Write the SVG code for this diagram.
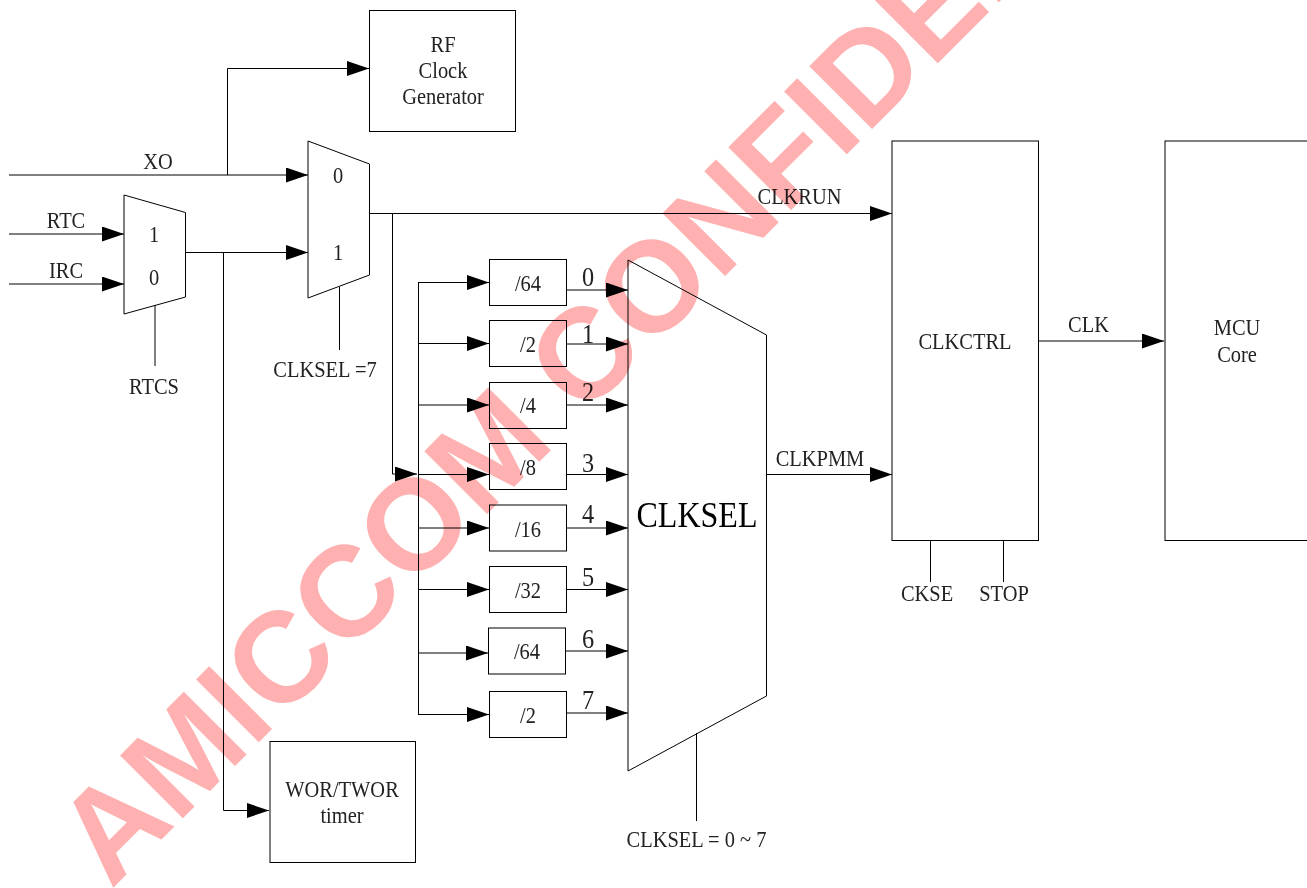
<svg xmlns="http://www.w3.org/2000/svg" width="1307" height="888" viewBox="0 0 1307 888">
<defs>
<marker id="a" markerUnits="userSpaceOnUse" markerWidth="22" markerHeight="16" refX="22" refY="7.5" orient="auto"><path d="M0 0L22 7.500L0 15Z" fill="#000"/></marker>
</defs>
<style>
.s{fill:#fff;stroke:#000;stroke-width:1}
.l{fill:none;stroke:#000;stroke-width:1}
.ar{marker-end:url(#a)}
text{font-family:"Liberation Serif","Times New Roman",serif;font-size:23.5px;fill:#222;text-anchor:middle}
.n{font-size:27px}
.big{font-size:36px;fill:#000}
.wm{font-family:"Liberation Sans",Arial,sans-serif;font-weight:700;font-size:129px;fill:#ffb0b0;text-anchor:start;mix-blend-mode:multiply}
</style>
<rect width="1307" height="888" fill="#fff"/>
<g id="rf"><rect class="s" x="369.500" y="10.500" width="146" height="121"/><text transform="translate(443 52) scale(.87 1)">RF</text><text transform="translate(443 78) scale(.87 1)">Clock</text><text transform="translate(443 104) scale(.87 1)">Generator</text></g>
<g id="mux-rtc"><path class="s" d="M124 195L185.500 212.500V297L124 314Z"/><text transform="translate(154 242) scale(.87 1)">1</text><text transform="translate(154 285) scale(.87 1)">0</text></g>
<g id="mux-run"><path class="s" d="M308 141L369.500 164V275L308 298Z"/><text transform="translate(338 183) scale(.87 1)">0</text><text transform="translate(338 260) scale(.87 1)">1</text></g>
<g id="wor"><rect class="s" x="270" y="741.500" width="145.500" height="121"/><text transform="translate(342 797) scale(.87 1)">WOR/TWOR</text><text transform="translate(342 823) scale(.87 1)">timer</text></g>
<g id="div0"><rect class="s" x="489.500" y="259.500" width="77" height="46"/><text transform="translate(528 291) scale(.87 1)">/64</text></g>
<g id="div1"><rect class="s" x="489.500" y="320.500" width="77" height="46"/><text transform="translate(528 352) scale(.87 1)">/2</text></g>
<g id="div2"><rect class="s" x="489.500" y="382.500" width="77" height="46"/><text transform="translate(528 413) scale(.87 1)">/4</text></g>
<g id="div3"><rect class="s" x="489.500" y="443.500" width="77" height="46"/><text transform="translate(528 475) scale(.87 1)">/8</text></g>
<g id="div4"><rect class="s" x="489.500" y="505" width="77" height="46"/><text transform="translate(528 537) scale(.87 1)">/16</text></g>
<g id="div5"><rect class="s" x="489.500" y="566.500" width="77" height="46"/><text transform="translate(528 598) scale(.87 1)">/32</text></g>
<g id="div6"><rect class="s" x="488.500" y="628" width="77" height="46"/><text transform="translate(527 659) scale(.87 1)">/64</text></g>
<g id="div7"><rect class="s" x="489.500" y="691.500" width="77" height="46"/><text transform="translate(528 723) scale(.87 1)">/2</text></g>
<g id="clksel"><path class="s" d="M628 260L766.500 335V696L628 771Z"/><text class="big" transform="translate(697 527) scale(.89 1)">CLKSEL</text></g>
<g id="clkctrl"><rect class="s" x="892" y="141" width="146.500" height="399.500"/><text transform="translate(965 349) scale(.87 1)">CLKCTRL</text></g>
<g id="mcu"><rect class="s" x="1165" y="141" width="146" height="399.500"/><text transform="translate(1237 335) scale(.87 1)">MCU</text><text transform="translate(1237 362) scale(.87 1)">Core</text></g>
<g id="connectors">
<path class="l ar" d="M9 175H308"/>
<path class="l ar" d="M227.500 175V68.500H369"/>
<path class="l ar" d="M9 234H124"/>
<path class="l ar" d="M9 284H124"/>
<path class="l ar" d="M186 252.500H308"/>
<path class="l ar" d="M223.500 253V810.500H269"/>
<path class="l ar" d="M370 213.500H892"/>
<path class="l ar" d="M392.500 213V474H417"/>
<path class="l" d="M418.500 282V715"/>
<path class="l ar" d="M418.500 282.500H489"/>
<path class="l ar" d="M418.500 343.500H489"/>
<path class="l ar" d="M418.500 405H489"/>
<path class="l ar" d="M418.500 474.500H489"/>
<path class="l ar" d="M418.500 528H489"/>
<path class="l ar" d="M418.500 589.500H489"/>
<path class="l ar" d="M418.500 653H488"/>
<path class="l ar" d="M418.500 714.500H489"/>
<path class="l ar" d="M567 290H628"/>
<path class="l ar" d="M567 344H628"/>
<path class="l ar" d="M567 405H628"/>
<path class="l ar" d="M567 474.500H628"/>
<path class="l ar" d="M567 528H628"/>
<path class="l ar" d="M567 589.500H628"/>
<path class="l ar" d="M566 651H628"/>
<path class="l ar" d="M567 713H628"/>
<path class="l ar" d="M767 474.500H892"/>
<path class="l ar" d="M1039 341H1164"/>
<path class="l" d="M155 305V366"/>
<path class="l" d="M339.500 287V350"/>
<path class="l" d="M696.500 733V821"/>
<path class="l" d="M930.500 541V582"/>
<path class="l" d="M1003.500 541V582"/>
</g>
<g id="labels">
<text transform="translate(158 169) scale(.87 1)">XO</text><text transform="translate(66 228) scale(.87 1)">RTC</text><text transform="translate(66 278) scale(.87 1)">IRC</text>
<text transform="translate(154 394) scale(.87 1)">RTCS</text><text transform="translate(325 377) scale(.87 1)">CLKSEL =7</text>
<text transform="translate(799.500 204) scale(.87 1)">CLKRUN</text><text transform="translate(820 466) scale(.87 1)">CLKPMM</text><text transform="translate(1088.500 332) scale(.87 1)">CLK</text>
<text transform="translate(927 601) scale(.87 1)">CKSE</text><text transform="translate(1004 601) scale(.87 1)">STOP</text><text transform="translate(696.500 847) scale(.87 1)">CLKSEL = 0 ~ 7</text>
<text class="n" transform="translate(588 286) scale(.9 1)">0</text><text class="n" transform="translate(588 343) scale(.9 1)">1</text><text class="n" transform="translate(588 401) scale(.9 1)">2</text><text class="n" transform="translate(588 472) scale(.9 1)">3</text><text class="n" transform="translate(588 523) scale(.9 1)">4</text><text class="n" transform="translate(588 586) scale(.9 1)">5</text><text class="n" transform="translate(588 648) scale(.9 1)">6</text><text class="n" transform="translate(588 709) scale(.9 1)">7</text>
</g>
<text class="wm" transform="translate(111 890) rotate(-45)">AMICCOM CONFIDENTIAL</text>
</svg>
